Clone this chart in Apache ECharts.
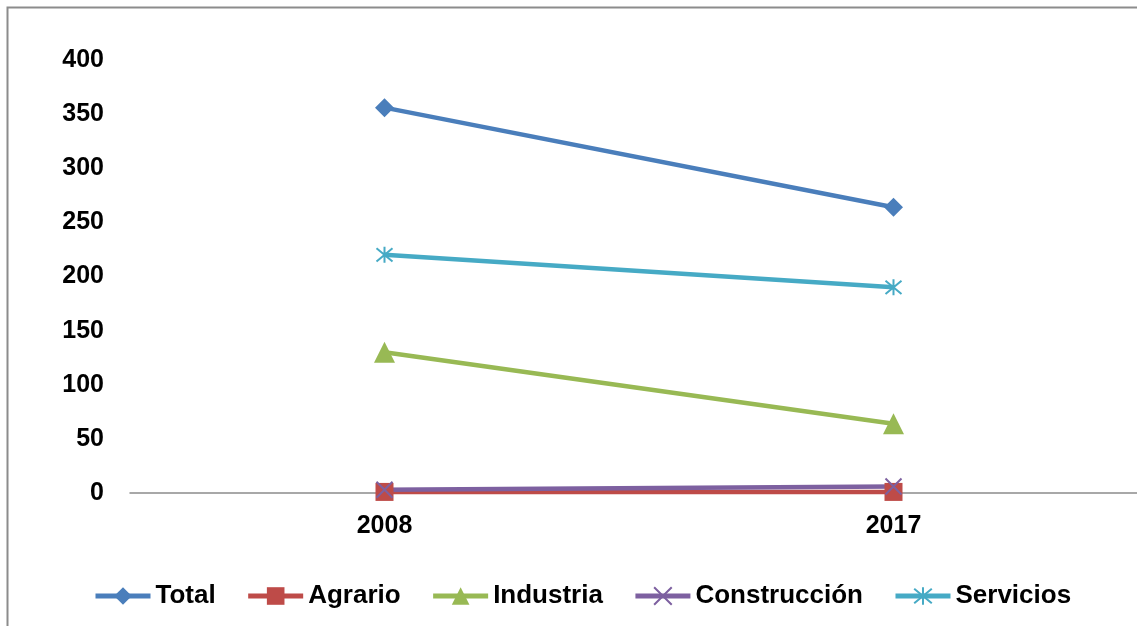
<!DOCTYPE html>
<html>
<head>
<meta charset="utf-8">
<script src="https://cdn.jsdelivr.net/npm/echarts@6/dist/echarts.min.js"></script>
<style>
  html, body { margin: 0; padding: 0; background: #fff; overflow: hidden; }
  #chart { width: 1150px; height: 626px; }
</style>
</head>
<body>
<div id="chart"></div>
<script>
var years = ["2008", "2017"];
var total = [356, 264];
var agrario = [1, 1];
var industria = [130, 64];
var construccion = [3, 6];
var servicios = [220, 190];
var yTicks = [0, 50, 100, 150, 200, 250, 300, 350, 400];

var crossPath = "path://M0,0L10,10M10,0L0,10";
var starPath = "path://M0,0L10,10M10,0L0,10M5,-1L5,11";

function makeSeries(name, data, color, symbol, size, stroke) {
    return {
        name: name,
        type: "line",
        data: data,
        symbol: symbol,
        symbolSize: size,
        showAllSymbol: true,
        lineStyle: { color: color, width: 4.5 },
        itemStyle: {
            color: stroke ? "rgba(0,0,0,0)" : color,
            borderColor: color,
            borderWidth: stroke ? 2 : 0,
        },
        emphasis: { disabled: true },
    };
}

var chart = echarts.init(document.getElementById("chart"));

// the plot area runs a little past the right edge of the window
var option = {
    animation: false,
    textStyle: { fontFamily: "Liberation Sans, Arial, sans-serif" },
    graphic: [
        {
            type: "rect",
            shape: { x: 7.5, y: 7.5, width: 1200, height: 700 },
            style: { fill: "none", stroke: "#8c8c8c", lineWidth: 2 },
            silent: true,
            z: -1,
        },
    ],
    grid: { left: 130, width: 1018, top: 60, height: 433 },
    legend: {
        top: 578,
        left: 88,
        itemWidth: 55,
        itemHeight: 22,
        itemGap: 30,
        lineStyle: { width: 5 },
        textStyle: { fontSize: 26, fontWeight: "bold", color: "#000", padding: [3, 0, 0, 0] },
        data: ["Total", "Agrario", "Industria", "Construcción", "Servicios"],
    },
    xAxis: {
        type: "category",
        data: years,
        boundaryGap: true,
        axisLine: { show: true, lineStyle: { color: "#8c8c8c", width: 1.5 } },
        axisTick: { show: false },
        axisLabel: { fontSize: 25, fontWeight: "bold", color: "#000", margin: 21 },
    },
    yAxis: {
        type: "value",
        min: yTicks[0],
        max: yTicks[yTicks.length - 1],
        interval: 50,
        axisLine: { show: false },
        axisTick: { show: false },
        splitLine: { show: false },
        axisLabel: { fontSize: 25, fontWeight: "bold", color: "#000", margin: 26 },
    },
    series: [
        makeSeries("Total", total, "#4a7ebb", "diamond", 19, false),
        makeSeries("Agrario", agrario, "#be4b48", "rect", 18, false),
        makeSeries("Industria", industria, "#98b954", "triangle", 21, false),
        makeSeries("Construcción", construccion, "#7d60a0", crossPath, 16, true),
        makeSeries("Servicios", servicios, "#46aac5", starPath, 16, true),
    ],
};

chart.setOption(option);
</script>
</body>
</html>
